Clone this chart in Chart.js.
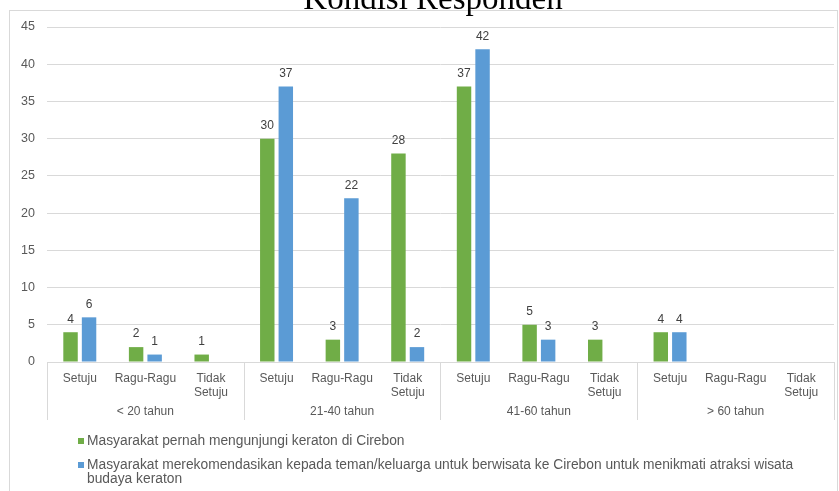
<!DOCTYPE html>
<html>
<head>
<meta charset="utf-8">
<script src="https://cdn.jsdelivr.net/npm/chart.js@4/dist/chart.umd.min.js"></script>
<style>
html,body{margin:0;padding:0;background:#fff;}
#wrap{position:relative;width:839px;height:491px;}
</style>
</head>
<body>
<div id="wrap"><canvas id="c" width="839" height="491"></canvas></div>
<script>
const chartTitle = "Kondisi Responden";
const categories = ["Setuju", "Ragu-Ragu", ["Tidak", "Setuju"], "Setuju", "Ragu-Ragu", ["Tidak", "Setuju"], "Setuju", "Ragu-Ragu", ["Tidak", "Setuju"], "Setuju", "Ragu-Ragu", ["Tidak", "Setuju"]];
const groups = ["< 20 tahun", "21-40 tahun", "41-60 tahun", "> 60 tahun"];
const visited = [4, 2, 1, 30, 3, 28, 37, 5, 3, 4, null, null];
const recommend = [6, 1, null, 37, 22, 2, 42, 3, null, 4, null, null];
const seriesNames = [
  "Masyarakat pernah mengunjungi keraton di Cirebon",
  "Masyarakat merekomendasikan kepada teman/keluarga untuk berwisata ke Cirebon untuk menikmati atraksi wisata budaya keraton"
];
const yTicks = [0, 5, 10, 15, 20, 25, 30, 35, 40, 45];

const GREEN = "#70AD47", BLUE = "#5B9BD5", TXT = "#595959", GRID = "#d9d9d9";
const FONT = '"Liberation Sans", Arial, sans-serif';

const decor = {
  id: "decor",
  beforeDraw(chart) {
    const ctx = chart.ctx;
    ctx.save();
    ctx.strokeStyle = GRID;
    ctx.lineWidth = 1;
    ctx.strokeRect(9.5, 10.5, 828, 500);
    ctx.restore();
  },
  afterDraw(chart) {
    const ctx = chart.ctx;
    const xs = chart.scales.x;
    const area = chart.chartArea;
    ctx.save();
    // title
    ctx.fillStyle = "#000";
    ctx.font = '33px "Liberation Serif", "Times New Roman", serif';
    ctx.textAlign = "center";
    ctx.textBaseline = "alphabetic";
    ctx.fillText(chartTitle, 433, 9);
    // data labels
    ctx.font = "12px " + FONT;
    ctx.fillStyle = "#404040";
    ctx.textBaseline = "middle";
    chart.data.datasets.forEach((ds, di) => {
      const meta = chart.getDatasetMeta(di);
      meta.data.forEach((bar, i) => {
        const v = ds.data[i];
        if (v === null || v === undefined) return;
        ctx.fillText(String(v), bar.x, bar.y - 13);
      });
    });
    // group separators and labels
    const half = (xs.getPixelForValue(1) - xs.getPixelForValue(0)) / 2;
    ctx.strokeStyle = GRID;
    ctx.lineWidth = 1;
    const n = categories.length;
    const per = n / groups.length;
    for (let g = 0; g <= groups.length; g++) {
      let x;
      if (g < groups.length) x = xs.getPixelForValue(g * per) - half;
      else x = xs.getPixelForValue(n - 1) + half;
      x = Math.round(x) + 0.5;
      ctx.beginPath();
      ctx.moveTo(x, area.bottom);
      ctx.lineTo(x, 420);
      ctx.stroke();
    }
    ctx.fillStyle = TXT;
    ctx.font = "12px " + FONT;
    groups.forEach((g, gi) => {
      const x0 = xs.getPixelForValue(gi * per);
      const x1 = xs.getPixelForValue(gi * per + per - 1);
      ctx.fillText(g, (x0 + x1) / 2, 412);
    });
    // legend
    ctx.textAlign = "left";
    ctx.font = "13.8px " + FONT;
    const legY = [441, 465];
    const maxW = 735;
    chart.data.datasets.forEach((ds, di) => {
      ctx.fillStyle = ds.backgroundColor;
      ctx.fillRect(78, legY[di] - 3, 6, 6);
      ctx.fillStyle = TXT;
      const words = seriesNames[di].split(" ");
      let line = "", y = legY[di];
      words.forEach(w => {
        const test = line ? line + " " + w : w;
        if (ctx.measureText(test).width > maxW && line) {
          ctx.fillText(line, 87, y);
          line = w; y += 14;
        } else line = test;
      });
      ctx.fillText(line, 87, y);
    });
    ctx.restore();
  }
};

new Chart(document.getElementById("c"), {
  type: "bar",
  data: {
    labels: categories,
    datasets: [
      { label: seriesNames[0], data: visited, backgroundColor: GREEN },
      { label: seriesNames[1], data: recommend, backgroundColor: BLUE }
    ]
  },
  options: {
    responsive: false,
    animation: false,
    events: [],
    layout: { padding: { top: 27, right: 5, bottom: 71, left: 0 } },
    categoryPercentage: 0.565,
    barPercentage: 0.78,
    plugins: { legend: { display: false }, tooltip: { enabled: false }, title: { display: false } },
    scales: {
      x: {
        grid: { display: false },
        border: { display: false },
        ticks: { color: TXT, font: { family: FONT, size: 12 }, padding: 1, maxRotation: 0, autoSkip: false },
        afterFit(s) { s.height = 58; }
      },
      y: {
        min: 0, max: 45,
        afterBuildTicks(s) { s.ticks = yTicks.map(v => ({ value: v })); },
        grid: { color: GRID, drawTicks: false },
        border: { display: false },
        ticks: { color: TXT, font: { family: FONT, size: 12.5 }, padding: 12 },
        afterFit(s) { s.width = 47; }
      }
    }
  },
  plugins: [decor]
});
</script>
</body>
</html>
